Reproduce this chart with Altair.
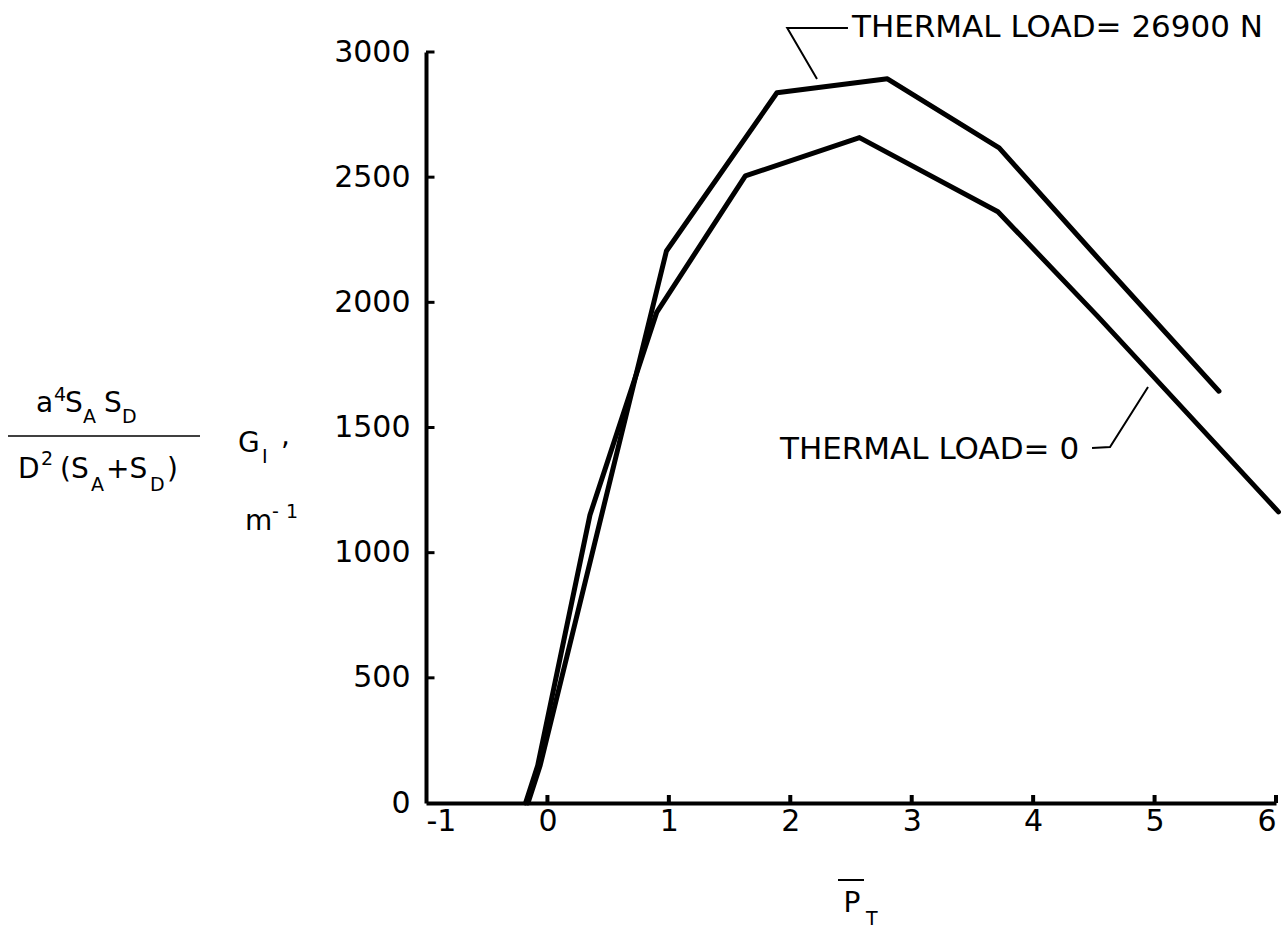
import altair as alt
import pandas as pd

# ---- data ----
p_load0 = [-0.18, -0.08, 0.35, 0.9, 1.63, 2.57, 3.71, 4.53, 6.02]
g_load0 = [0, 150, 1150, 1960, 2505, 2658, 2362, 1945, 1163]

p_load1 = [-0.16, -0.06, 0.98, 1.89, 2.8, 3.72, 4.5, 5.53]
g_load1 = [0, 150, 2205, 2837, 2893, 2617, 2195, 1645]

x_ticks = [-1, 0, 1, 2, 3, 4, 5, 6]
y_ticks = [0, 500, 1000, 1500, 2000, 2500, 3000]

label_hi = "THERMAL LOAD= 26900 N"
label_lo = "THERMAL LOAD= 0"

# leader lines (data coordinates)
lead_hi_x = [2.475, 1.975, 2.22]
lead_hi_y = [3096, 3096, 2892]
lead_lo_x = [4.485, 4.633, 4.946]
lead_lo_y = [1418, 1422, 1662]

FONT = "DejaVu Sans"
W, H = 850, 751
OX, OY = 426, 52  # plot origin in page pixels

df = pd.concat([
    pd.DataFrame({"p": p_load0, "g": g_load0, "s": "load0", "o": range(len(p_load0))}),
    pd.DataFrame({"p": p_load1, "g": g_load1, "s": "load1", "o": range(len(p_load1))}),
])

xs = alt.Scale(domain=[-1, 6], nice=False, zero=False)
ys = alt.Scale(domain=[0, 3000], nice=False)

minus_fix = "replace(datum.label, '\u2212', '-')"

curves = alt.Chart(df).mark_line(color="black", strokeWidth=5, strokeJoin="round", strokeCap="round").encode(
    x=alt.X("p:Q", scale=xs, axis=alt.Axis(values=x_ticks, format="d", title=None, ticks=False,
                                           labelPadding=3, labelFontSize=30, labelFont=FONT,
                                           labelExpr=minus_fix,
                                           labelColor="black", domainColor="black", domainWidth=4,
                                           grid=False)),
    y=alt.Y("g:Q", scale=ys, axis=alt.Axis(values=y_ticks, format="d", title=None, ticks=False,
                                           labelPadding=16, labelFontSize=30, labelFont=FONT,
                                           labelColor="black", domainColor="black", domainWidth=4,
                                           grid=False)),
    detail="s:N",
    order="o:Q",
)

# inward tick marks
ytk = pd.DataFrame({"y": y_ticks[1:], "x0": [-1] * 6, "x1": [-0.93] * 6})
ytick_marks = alt.Chart(ytk).mark_rule(color="black", strokeWidth=3).encode(
    x=alt.X("x0:Q", scale=xs), x2="x1:Q", y=alt.Y("y:Q", scale=ys))
xtk = pd.DataFrame({"x": x_ticks[1:], "y0": [0] * 7, "y1": [32] * 7})
xtick_marks = alt.Chart(xtk).mark_rule(color="black", strokeWidth=4).encode(
    x=alt.X("x:Q", scale=xs), y=alt.Y("y0:Q", scale=ys), y2="y1:Q")

leaders = alt.Chart(pd.concat([
    pd.DataFrame({"p": lead_hi_x, "g": lead_hi_y, "s": "a", "o": [0, 1, 2]}),
    pd.DataFrame({"p": lead_lo_x, "g": lead_lo_y, "s": "b", "o": [0, 1, 2]}),
])).mark_line(color="black", strokeWidth=2).encode(
    x=alt.X("p:Q", scale=xs), y=alt.Y("g:Q", scale=ys), detail="s:N", order="o:Q")


def txt(s, x, y, size, baseline="alphabetic", align="left"):
    return alt.Chart(pd.DataFrame({"t": [s]})).mark_text(
        font=FONT, fontSize=size, color="black", align=align, baseline=baseline
    ).encode(text="t:N", x=alt.value(x - OX), y=alt.value(y - OY))


BIG, SMALL = 28, 19
pieces = [
    txt(label_hi, 852, 28, 31, baseline="middle"),
    txt(label_lo, 780, 450, 31, baseline="middle"),
    # y-axis label (fraction)
    txt("a", 36, 412, BIG), txt("4", 54, 401, SMALL), txt("S", 65, 412, BIG), txt("A", 83, 423, SMALL),
    txt("S", 104, 412, BIG), txt("D", 122, 423, SMALL),
    txt("D", 18, 478, BIG), txt("2", 41, 465, SMALL), txt("(S", 60, 478, BIG),
    txt("A", 91, 491, SMALL), txt("+S", 106, 478, BIG), txt("D", 150, 491, SMALL),
    txt(")", 167, 478, BIG),
    txt("G", 238, 452, BIG), txt("I", 262, 463, SMALL), txt(",", 281, 445, BIG),
    txt("m", 245, 530, BIG), txt("-", 272, 518, SMALL), txt("1", 286, 518, SMALL),
    # x-axis label
    txt("P", 852, 912, BIG, align="center"), txt("T", 866, 925, SMALL),
]

frac_line = alt.Chart(pd.DataFrame({"a": [0]})).mark_rule(color="black", strokeWidth=1.5).encode(
    x=alt.value(8 - OX), x2=alt.value(200 - OX), y=alt.value(436 - OY))
bar_line = alt.Chart(pd.DataFrame({"a": [0]})).mark_rule(color="black", strokeWidth=2).encode(
    x=alt.value(838 - OX), x2=alt.value(864 - OX), y=alt.value(880 - OY))

chart = alt.layer(curves, ytick_marks, xtick_marks, leaders, frac_line, bar_line, *pieces).properties(
    width=W, height=H, autosize="none", background="white",
    padding={"left": OX, "top": OY, "right": 1288 - OX - W, "bottom": 932 - OY - H},
).configure_view(strokeWidth=0)

chart.save("out.html", embed_options={"renderer": "svg", "actions": False})
